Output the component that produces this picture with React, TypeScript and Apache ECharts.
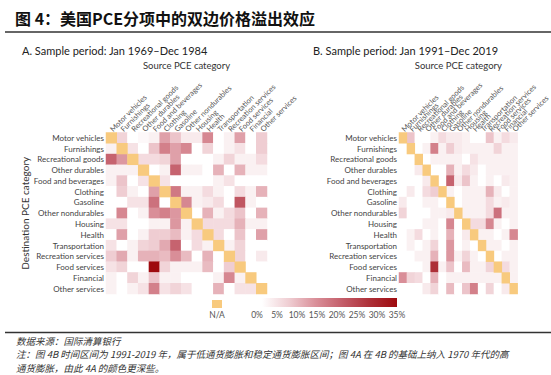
import React, { useEffect, useRef } from "react";
import * as echarts from "echarts";

const categories = [
  "Motor vehicles", "Furnishings", "Recreational goods", "Other durables", "Food and beverages",
  "Clothing", "Gasoline", "Other nondurables", "Housing", "Health", "Transportation",
  "Recreation services", "Food services", "Financial", "Other services",
];

// rows = destination, columns = source, values in %; diagonal = N/A
const spilloverA: (number | null)[][] = [
  [null, 6, 0, 1, 2, 12, 8, 3, 3, 15, 0, 2, 12, 0, 7],
  [2, null, 4, 0, 8, 16, 12, 15, 0, 6, 0, 2, 4, 0, 7],
  [20, 13, null, 5, 5, 6, 12, 0, 0, 0, 2, 6, 2, 2, 5],
  [2, 2, 2, null, 0, 2, 20, 2, 2, 0, 10, 0, 10, 2, 2],
  [2, 8, 0, 4, null, 4, 0, 0, 0, 0, 2, 4, 0, 0, 0],
  [0, 7, 2, 0, 12, null, 17, 2, 2, 5, 2, 0, 5, 2, 10],
  [0, 0, 4, 4, 18, 0, null, 15, 2, 3, 5, 0, 22, 2, 0],
  [0, 15, 0, 2, 14, 16, 13, null, 0, 10, 2, 5, 8, 0, 10],
  [4, 4, 0, 0, 2, 2, 13, 2, null, 5, 5, 5, 10, 2, 2],
  [0, 12, 0, 2, 7, 7, 9, 2, 5, null, 5, 0, 8, 0, 12],
  [4, 0, 2, 6, 7, 11, 20, 0, 5, 2, null, 2, 6, 0, 0],
  [7, 11, 2, 10, 10, 9, 14, 9, 0, 10, 0, null, 6, 0, 3],
  [4, 6, 0, 0, 35, 6, 2, 2, 2, 9, 0, 7, null, 0, 0],
  [2, 0, 6, 2, 8, 2, 2, 0, 0, 0, 2, 15, 2, null, 0],
  [2, 0, 2, 4, 16, 4, 6, 4, 0, 0, 10, 0, 4, 4, null],
];

const spilloverB: (number | null)[][] = [
  [null, 8, 0, 0, 2, 5, 3, 3, 2, 0, 0, 8, 2, 5, 3],
  [0, null, 0, 2, 16, 2, 7, 3, 2, 2, 2, 2, 6, 2, 2],
  [0, 0, null, 0, 2, 2, 2, 2, 0, 4, 2, 2, 2, 2, 2],
  [0, 0, 3, null, 0, 0, 10, 2, 5, 3, 0, 2, 2, 2, 2],
  [0, 0, 0, 3, null, 0, 20, 3, 8, 2, 0, 2, 0, 3, 2],
  [0, 3, 0, 5, 7, null, 2, 0, 2, 2, 2, 10, 3, 0, 2],
  [3, 0, 0, 2, 2, 0, null, 0, 2, 2, 2, 5, 2, 3, 2],
  [6, 0, 0, 0, 2, 2, 3, null, 2, 2, 2, 5, 18, 2, 2],
  [0, 0, 0, 2, 2, 0, 15, 0, null, 5, 5, 15, 2, 0, 2],
  [0, 2, 5, 0, 2, 0, 10, 0, 3, null, 2, 2, 0, 2, 15],
  [0, 2, 0, 2, 6, 0, 13, 0, 2, 0, null, 2, 2, 0, 2],
  [0, 0, 2, 2, 10, 0, 13, 2, 6, 2, 0, null, 0, 2, 2],
  [0, 0, 0, 2, 28, 2, 8, 0, 9, 2, 2, 6, null, 5, 2],
  [14, 6, 5, 0, 10, 0, 2, 2, 2, 2, 2, 2, 2, null, 2],
  [0, 0, 0, 3, 6, 0, 9, 0, 8, 16, 0, 6, 0, 3, null],
];

const legendTicks = ["0%", "5%", "10%", "15%", "20%", "25%", "30%", "35%"];

const titleText = "图 4：美国PCE分项中的双边价格溢出效应";
const panelTitles = ["A. Sample period: Jan 1969\u2013Dec 1984", "B. Sample period: Jan 1991\u2013Dec 2019"];
const notes = [
  "数据来源：国际清算银行",
  "注：图 4B 时间区间为 1991-2019 年，属于低通货膨胀和稳定通货膨胀区间；图 4A 在 4B 的基础上纳入 1970 年代的高",
  "通货膨胀，由此 4A 的颜色更深些。",
];

const LATIN = "Lato, 'Open Sans', sans-serif";
const CJK = "'Noto Sans CJK SC', sans-serif";
const NA_COLOR = "#f8ca7e";
const RAMP = ["#ffffff", "#efcdd2", "#d98e98", "#c35c68", "#ad2f37", "#9e0a0e"];

function split(m: (number | null)[][]) {
  const vals: number[][] = [];
  const diag: number[][] = [];
  m.forEach((row, r) =>
    row.forEach((v, c) => {
      if (v === null) diag.push([c, r, 1]);
      else vals.push([c, r, v]);
    })
  );
  return { vals, diag };
}

export default function App() {
  const ref = useRef<HTMLDivElement>(null);
  useEffect(() => {
    if (!ref.current) return;
    const chart = echarts.init(ref.current, null, { renderer: "svg" });
    const a = split(spilloverA);
    const b = split(spilloverB);

    const mkX = (gi: number) => ({
      type: "category",
      gridIndex: gi,
      data: categories,
      position: "top",
      axisLine: { show: false },
      axisTick: { show: false },
      splitLine: { show: false },
      axisLabel: { rotate: -45, interval: 0, fontSize: 7.5, color: "#555", margin: 2, fontFamily: LATIN },
      name: "Source PCE category",
      nameLocation: "middle",
      nameGap: 62,
      nameTextStyle: { fontSize: 9.5, color: "#333", fontFamily: LATIN },
    });
    const mkY = (gi: number, withName: boolean) => ({
      type: "category",
      gridIndex: gi,
      data: categories,
      inverse: true,
      axisLine: { show: false },
      axisTick: { show: false },
      splitLine: { show: false },
      axisLabel: { interval: 0, fontSize: 8, color: "#444", margin: 2, fontFamily: LATIN },
      name: withName ? "Destination PCE category" : "",
      nameLocation: "middle",
      nameGap: 72,
      nameRotate: 90,
      nameTextStyle: { fontSize: 10, color: "#333", fontFamily: LATIN },
    });

    const stops = RAMP.map((c, i) => ({ offset: i / (RAMP.length - 1), color: c }));
    const graphics: any[] = [
      {
        type: "text", x: 15, y: 18,
        style: { text: titleText, fontSize: 16, fontWeight: "bold", fontFamily: CJK, fill: "#111", textVerticalAlign: "middle" },
      },
      { type: "line", shape: { x1: 5, y1: 32, x2: 551, y2: 32 }, style: { stroke: "#333", lineWidth: 1.3 } },
      { type: "line", shape: { x1: 5, y1: 332.5, x2: 551, y2: 332.5 }, style: { stroke: "#333", lineWidth: 1.3 } },
      {
        type: "text", x: 22, y: 50,
        style: { text: panelTitles[0], fontSize: 11, fontFamily: LATIN, fill: "#222", textVerticalAlign: "middle" },
      },
      {
        type: "text", x: 313, y: 50,
        style: { text: panelTitles[1], fontSize: 11, fontFamily: LATIN, fill: "#222", textVerticalAlign: "middle" },
      },
      { type: "rect", shape: { x: 212, y: 300, width: 10, height: 8 }, style: { fill: NA_COLOR } },
      {
        type: "text", x: 217, y: 315,
        style: { text: "N/A", fontSize: 8.5, fontFamily: LATIN, fill: "#555", textAlign: "center", textVerticalAlign: "middle" },
      },
      {
        type: "rect", shape: { x: 262, y: 298, width: 135, height: 9 },
        style: { fill: new echarts.graphic.LinearGradient(0, 0, 1, 0, stops) },
      },
    ];
    legendTicks.forEach((t, i) =>
      graphics.push({
        type: "text", x: 257 + 20 * i, y: 315,
        style: { text: t, fontSize: 8.5, fontFamily: LATIN, fill: "#555", textAlign: "center", textVerticalAlign: "middle" },
      })
    );
    notes.forEach((t, i) =>
      graphics.push({
        type: "text", x: 16, y: 340.5 + 13.9 * i,
        style: { text: t, fontSize: 9.5, fontStyle: "italic", fontFamily: CJK, fill: "#333", textVerticalAlign: "middle" },
      })
    );

    chart.setOption({
      animation: false,
      backgroundColor: "#fff",
      grid: [
        { left: 106, top: 132.5, width: 161, height: 161.5 },
        { left: 399, top: 132.5, width: 162, height: 161.5 },
      ],
      xAxis: [mkX(0), mkX(1)],
      yAxis: [mkY(0, true), mkY(1, false)],
      visualMap: [
        {
          show: false,
          type: "continuous",
          min: 0,
          max: 35,
          seriesIndex: [0, 2],
          inRange: { color: RAMP },
        },
        {
          show: false,
          type: "continuous",
          min: 0,
          max: 2,
          seriesIndex: [1, 3],
          inRange: { color: [NA_COLOR, NA_COLOR] },
        },
      ],
      series: [
        { type: "heatmap", xAxisIndex: 0, yAxisIndex: 0, data: a.vals },
        { type: "heatmap", xAxisIndex: 0, yAxisIndex: 0, data: a.diag },
        { type: "heatmap", xAxisIndex: 1, yAxisIndex: 1, data: b.vals },
        { type: "heatmap", xAxisIndex: 1, yAxisIndex: 1, data: b.diag },
      ],
      graphic: graphics,
    });
    return () => chart.dispose();
  }, []);
  return <div ref={ref} style={{ position: "absolute", left: 0, top: 0, width: 551, height: 375 }} />;
}
